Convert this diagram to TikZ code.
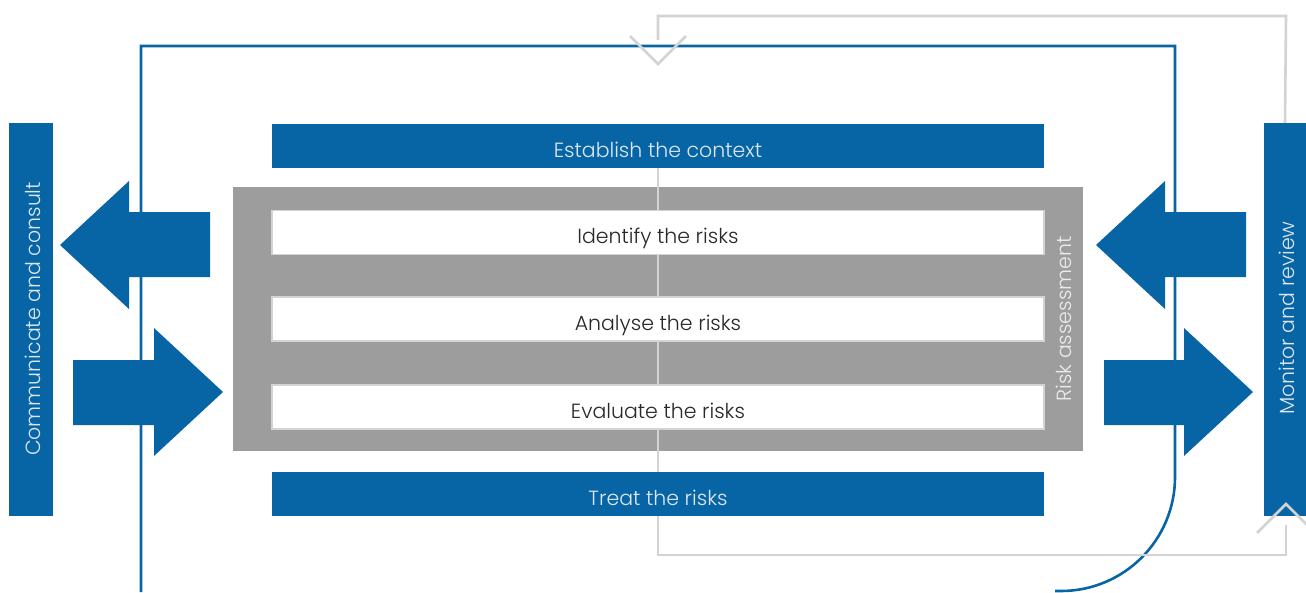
\documentclass[tikz,border=0pt]{standalone}
\usepackage{fontspec}
\setmainfont{Poppins Light}
\definecolor{isoblue}{RGB}{7,101,165}
\definecolor{boxgray}{RGB}{157,157,157}
\definecolor{linegray}{RGB}{211,211,211}
\definecolor{paletext}{RGB}{222,231,240}
\definecolor{darktext}{RGB}{40,40,40}
\begin{document}
\begin{tikzpicture}[x=1pt,y=-1pt,
  labelfont/.style={font=\fontsize{20.5}{22}\selectfont,text height=22pt,text depth=0pt},
  bluebox/.style={fill=isoblue,draw=none,text=paletext,labelfont,inner sep=0pt},
  stepbox/.style={fill=white,draw=linegray,line width=1.5pt,text=darktext,labelfont,
    minimum width=772,minimum height=44,inner sep=0pt},
  sidebar/.style={fill=isoblue,draw=none,inner sep=0pt},
  sidetext/.style={text=paletext,font=\fontsize{20.5}{22}\selectfont,rotate=90,inner sep=0pt},
  loopline/.style={draw=isoblue,line width=2.6pt},
  flowline/.style={draw=linegray,line width=2.6pt},
  blockarrow/.style={fill=isoblue,draw=none}]
\useasboundingbox (0,0) rectangle (1306,592);

% outer review loop
\draw[loopline] (141,592) -- (141,46) -- (1175,46) -- (1175,477)
  arc[start angle=0,end angle=90,radius=114] -- (1055,591);

% side bars
\node[sidebar,minimum width=44,minimum height=393] (comm) at (31,319.5) {};
\node[sidetext] (commtext) at (33,319) {Communicate and consult};
\node[sidebar,minimum width=42,minimum height=393] (mon) at (1285,319.5) {};
\node[sidetext] (montext) at (1287,318) {Monitor and review};

% risk assessment block
\node[fill=boxgray,draw=none,minimum width=850,minimum height=264,inner sep=0pt] (ra) at (658,319) {};
\node[sidetext,text={rgb,255:red,235;green,235;blue,235}] (ratext) at (1064,319) {Risk assessment};

% process flow line behind the steps
\coordinate (botturn) at (658,555);
\coordinate (monin) at (1286,525);
\draw[flowline] (658,168) -- (botturn) -| (monin);

% steps
\node[bluebox,minimum width=772,minimum height=44] (ctx) at (658,146) {Establish the context};
\node[stepbox] (ident) at (658,232.5) {Identify the risks};
\node[stepbox] (anal) at (658,319) {Analyse the risks};
\node[stepbox] (eval) at (658,407) {Evaluate the risks};
\node[bluebox,minimum width=772,minimum height=44] (treat) at (658,494) {Treat the risks};

% feedback from monitoring back to the context
\coordinate (topturn) at (1286,16);
\coordinate (ctxin) at (658,40);
\draw[flowline] (mon.north) -- (topturn) -| (ctxin);
\draw[flowline,line join=miter] (630,36) -- (658,64) -- (686,36);
\draw[flowline,line join=miter] (1257,533) -- (1286,504) -- (1315,533);

% exchange arrows, communication side
\fill[blockarrow] (60,245) -- (129,181) -- (129,212) -- (210,212) -- (210,277) -- (129,277) -- (129,309) -- cycle;
\fill[blockarrow] (223,392) -- (154,328) -- (154,360) -- (73,360) -- (73,425) -- (154,425) -- (154,456) -- cycle;
% exchange arrows, monitoring side
\fill[blockarrow] (1096,245) -- (1165,181) -- (1165,212) -- (1246,212) -- (1246,277) -- (1165,277) -- (1165,309) -- cycle;
\fill[blockarrow] (1253,392) -- (1184,328) -- (1184,360) -- (1104,360) -- (1104,425) -- (1184,425) -- (1184,456) -- cycle;
\end{tikzpicture}
\end{document}
